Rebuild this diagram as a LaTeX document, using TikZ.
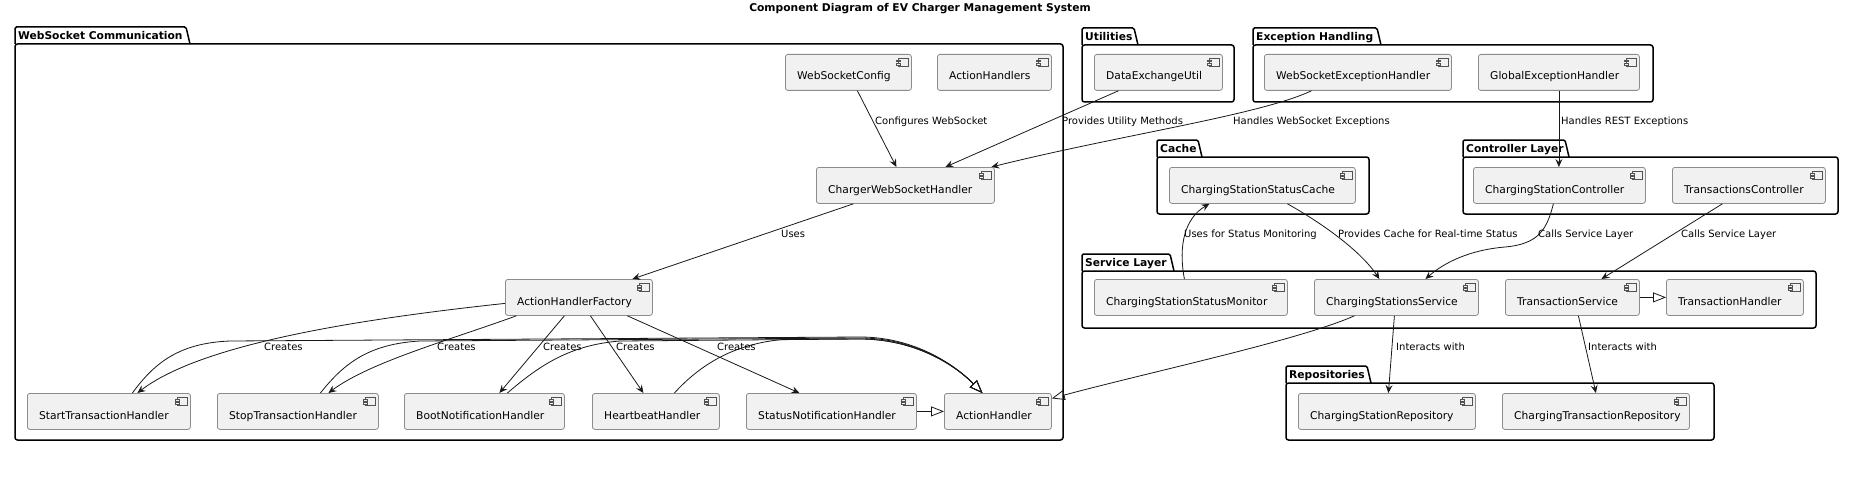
\documentclass[tikz,border=0pt]{standalone}
\usepackage{fontspec}
\setmainfont{DejaVu Sans}
\usetikzlibrary{arrows.meta,calc}
\definecolor{boxfill}{HTML}{F1F1F1}
\definecolor{boxline}{HTML}{8C8C8C}
\definecolor{ink}{HTML}{181818}
\tikzset{
  compbox/.style={draw=boxline, fill=boxfill, line width=0.8pt, rounded corners=2.5pt, minimum height=36pt, inner sep=0pt, anchor=north west},
  comptext/.style={font=\fontsize{10.7}{12}\selectfont, text=black, inner sep=0pt, anchor=base west},
  lbl/.style={font=\fontsize{10}{12}\selectfont, inner sep=0pt, anchor=base west},
  pkgline/.style={draw=black, line width=1.5pt},
  pkglabel/.style={font=\bfseries\fontsize{10.7}{12}\selectfont, inner sep=0pt, anchor=base west},
  conn/.style={draw=ink, line width=0.8pt, -{Stealth[length=8pt,width=7pt,inset=3pt]}},
  gen/.style={draw=ink, line width=0.8pt, -{Triangle[open,length=13pt,width=10pt]}},
  icon/.style={draw=ink!75, line width=0.6pt, fill=boxfill},
}
\newcommand\mkcomp[5]{%
  \node[compbox, minimum width=#4pt] (#1) at (#2,#3) {};
  \node[comptext] (#1-t) at ([xshift=12pt,yshift=-26pt]#1.north west) {#5};
  \draw[icon] ([xshift=-14pt,yshift=-4.5pt]#1.north east) rectangle ([xshift=-4pt,yshift=-12.5pt]#1.north east);
  \draw[icon] ([xshift=-16pt,yshift=-6pt]#1.north east) rectangle ([xshift=-12pt,yshift=-7.8pt]#1.north east);
  \draw[icon] ([xshift=-16pt,yshift=-9.2pt]#1.north east) rectangle ([xshift=-12pt,yshift=-11pt]#1.north east);
}
\newcommand\mkpkg[7]{%
  \draw[pkgline, rounded corners=1.5pt] (#2,#3+17) -- (#2,#3) -- (#4-4,#3) -- (#4,#3+17);
  \draw[pkgline, rounded corners=2.5pt] (#2,#3+17) rectangle (#5,#6);
  \node[pkglabel] (#1) at (#2+3,#3+12.3) {#7};
}
\begin{document}
\begin{tikzpicture}[x=1pt,y=-1pt]
\useasboundingbox (0,0) rectangle (1854,484);
\node[font=\bfseries\fontsize{10.7}{12}\selectfont, anchor=base, inner sep=0pt] (title) at (920,12) {Component Diagram of EV Charger Management System};

% packages
\mkpkg{pws}{15}{27}{190}{1063}{440}{WebSocket Communication}
\mkpkg{putil}{1082}{28}{1138}{1234}{102}{Utilities}
\mkpkg{pexc}{1253}{28}{1381}{1653}{102}{Exception Handling}
\mkpkg{pcache}{1157}{140}{1202}{1369}{214}{Cache}
\mkpkg{pctrl}{1463}{140}{1569}{1838}{214}{Controller Layer}
\mkpkg{psvc}{1082}{254}{1174}{1816}{328}{Service Layer}
\mkpkg{prepo}{1286}{366}{1371}{1714}{440}{Repositories}

% components
\mkcomp{wsc}{785}{54}{126}{WebSocketConfig}
\mkcomp{ahs}{937}{54}{114}{ActionHandlers}
\mkcomp{deu}{1094}{54}{128}{DataExchangeUtil}
\mkcomp{wseh}{1264}{54}{187}{WebSocketExceptionHandler}
\mkcomp{geh}{1478}{54}{161}{GlobalExceptionHandler}
\mkcomp{cwsh}{816}{167}{178}{ChargerWebSocketHandler}
\mkcomp{cache}{1169}{167}{186}{ChargingStationStatusCache}
\mkcomp{csc}{1473}{167}{172}{ChargingStationController}
\mkcomp{tc}{1672}{167}{153}{TransactionsController}
\mkcomp{ahf}{505}{279}{147}{ActionHandlerFactory}
\mkcomp{csm}{1094}{279}{193}{ChargingStationStatusMonitor}
\mkcomp{css}{1314}{279}{164}{ChargingStationsService}
\mkcomp{ts}{1505}{279}{134}{TransactionService}
\mkcomp{th}{1666}{279}{137}{TransactionHandler}
\mkcomp{start}{27}{393}{163}{StartTransactionHandler}
\mkcomp{stop}{217}{393}{161}{StopTransactionHandler}
\mkcomp{boot}{404}{393}{160}{BootNotificationHandler}
\mkcomp{hb}{592}{393}{127}{HeartbeatHandler}
\mkcomp{sn}{746}{393}{170}{StatusNotificationHandler}
\mkcomp{ah}{944}{393}{107}{ActionHandler}
\mkcomp{repo1}{1298}{393}{177}{ChargingStationRepository}
\mkcomp{repo2}{1502}{393}{187}{ChargingTransactionRepository}

% connectors (upper part)
\draw[conn] ([xshift=9pt]wsc.south) -- ([xshift=-9pt]cwsh.north);
\draw[conn] ([xshift=-40pt]deu.south) -- ([xshift=40pt]cwsh.north);
\draw[conn] ([xshift=-46.5pt]wseh.south) .. controls (1260,115) and (1120,135) .. ([xshift=86pt]cwsh.north);
\draw[conn] (geh.south) -- (geh.south |- csc.north);
\draw[conn] ([xshift=-52pt]cwsh.south) -- ([xshift=53.5pt]ahf.north);
\draw[conn] ([xshift=-6.5pt]csm.north) .. controls (1178,245) and (1185,218) .. ([xshift=-53pt]cache.south);
\draw[conn] ([xshift=25pt]cache.south) .. controls (1320,222) and (1360,250) .. ([xshift=-17pt]css.north);
\draw[conn] ([xshift=-6pt]csc.south) .. controls (1547,228) and (1540,244) .. (1505,247) .. controls (1470,250) and (1445,262) .. ([xshift=29pt]css.north);
\draw[conn] ([xshift=-26.5pt]tc.south) -- ([xshift=29pt]ts.north);
\draw[gen] (ts.east) -- (th.west);
\draw[conn] ([xshift=-2pt]css.south) -- ([xshift=1.5pt]repo1.north);
\draw[conn] ([xshift=6pt]ts.south) -- (repo2.north);
\draw[gen] ([xshift=-42pt]css.south) .. controls (1300,340) and (1150,372) .. ([yshift=13pt]ah.east);

% creates
\draw[conn] ([yshift=-6pt]ahf.west) .. controls (350,320) and (200,345) .. ([xshift=28.5pt]start.north);
\draw[conn] ([xshift=-62.5pt]ahf.south) .. controls (450,340) and (370,362) .. ([xshift=30.5pt]stop.north);
\draw[conn] ([xshift=-14.5pt]ahf.south) -- ([xshift=15pt]boot.north);
\draw[conn] ([xshift=11.5pt]ahf.south) -- ([xshift=-12.5pt]hb.north);
\draw[conn] ([xshift=48.5pt]ahf.south) -- ([xshift=-32pt]sn.north);

% generalizations to ActionHandler
\draw[gen] ([xshift=23.5pt]start.north) .. controls (155,362) and (180,343) .. (230,341) -- (860,337) .. controls (915,337) and (955,365) .. ([xshift=-15.5pt]ah.north);
\draw[gen] ([xshift=22.5pt]stop.north) .. controls (345,362) and (370,344) .. (420,341) -- (860,338) .. controls (915,338) and (955,365) .. ([xshift=-15.5pt]ah.north);
\draw[gen] ([xshift=23pt]boot.north) .. controls (540,365) and (570,345) .. (620,341) -- (860,339) .. controls (915,339) and (955,365) .. ([xshift=-15.5pt]ah.north);
\draw[gen] ([xshift=18.5pt]hb.north) .. controls (700,365) and (735,342) .. (790,339) -- (860,339) .. controls (915,339) and (955,365) .. ([xshift=-15.5pt]ah.north);
\draw[gen] (sn.east) -- (ah.west);

% labels
\node[lbl] (l1) at (875,124.5) {Configures WebSocket};
\node[lbl] (l2) at (1062,124.5) {Provides Utility Methods};
\node[lbl] (l3) at (1233,124.5) {Handles WebSocket Exceptions};
\node[lbl] (l4) at (1561,124.5) {Handles REST Exceptions};
\node[lbl] (l5) at (781,237.5) {Uses};
\node[lbl] (l6) at (1184,237.5) {Uses for Status Monitoring};
\node[lbl] (l7) at (1338,237.5) {Provides Cache for Real-time Status};
\node[lbl] (l8) at (1538,237.5) {Calls Service Layer};
\node[lbl] (l9) at (1681,237.5) {Calls Service Layer};
\node[lbl] (l10) at (1396,350.5) {Interacts with};
\node[lbl] (l11) at (1588,350.5) {Interacts with};
\node[lbl] (c1) at (264,350.5) {Creates};
\node[lbl] (c2) at (437,350.5) {Creates};
\node[lbl] (c3) at (543,350.5) {Creates};
\node[lbl] (c4) at (616,350.5) {Creates};
\node[lbl] (c5) at (717,350.5) {Creates};
\end{tikzpicture}
\end{document}
